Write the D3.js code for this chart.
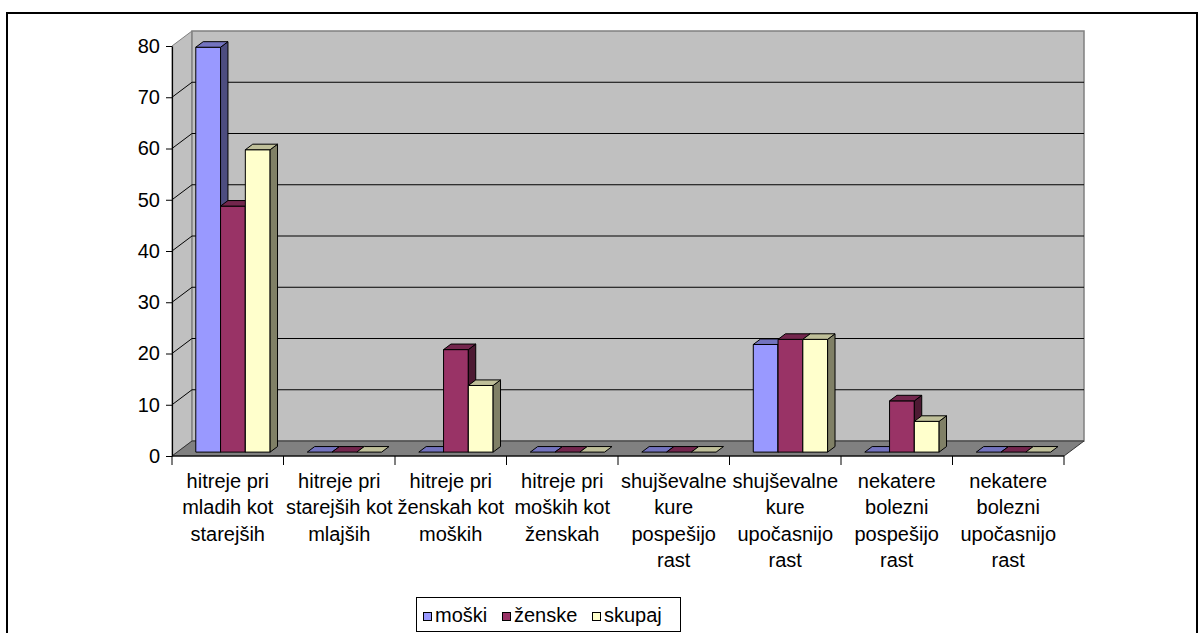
<!DOCTYPE html>
<html>
<head>
<meta charset="utf-8">
<script src="https://cdn.jsdelivr.net/npm/d3@7"></script>
<style>
  html, body { margin: 0; padding: 0; background: #fff; }
  svg { display: block; }
  text { font-family: "Liberation Sans", Arial, sans-serif; fill: #000; }
</style>
</head>
<body>
<svg id="chart" width="1198" height="633"></svg>
<script>
// Categories (line breaks as they are printed under the axis)
const categories = [
  "hitreje pri\nmladih kot\nstarejših",
  "hitreje pri\nstarejših kot\nmlajših",
  "hitreje pri\nženskah kot\nmoških",
  "hitreje pri\nmoških kot\nženskah",
  "shujševalne\nkure\npospešijo\nrast",
  "shujševalne\nkure\nupočasnijo\nrast",
  "nekatere\nbolezni\npospešijo\nrast",
  "nekatere\nbolezni\nupočasnijo\nrast"
];
const seriesNames = ["moški", "ženske", "skupaj"];
const moski   = [79, 0, 0, 0, 0, 21, 0, 0];
const zenske  = [48, 0, 20, 0, 0, 22, 10, 0];
const skupaj  = [59, 0, 13, 0, 0, 22, 6, 0];
const yTicks  = [0, 10, 20, 30, 40, 50, 60, 70, 80];

const seriesValues = [moski, zenske, skupaj];
const frontColors = ["#9999FF", "#993366", "#FFFFCC"];

const svg = d3.select("#chart");

// Front plane of the plot and the 3-D depth offset
const x = d3.scaleBand().domain(d3.range(categories.length)).range([172, 1064]);
const y = d3.scaleLinear().domain([0, 80]).range([456, 46]);
const sub = d3.scaleBand().domain(seriesNames)
  .range([x.bandwidth() / 6, x.bandwidth() * 5 / 6]);
const DX = 20, DY = -15;          // full depth of the floor
const F0 = 0.26, F1 = 0.63;       // bars sit between these depth fractions

const P = (px, py, f) => [px + f * DX, py + f * DY];
const poly = pts => pts.map(p => p.join(",")).join(" ");

const x0 = x.range()[0], x1 = x.range()[1];
const yMax = y(80), yMin = y(0);

// Walls and floor
const walls = svg.append("g");
walls.append("polygon")
  .attr("points", poly([P(x0, yMax, 0), P(x0, yMax, 1), P(x0, yMin, 1), P(x0, yMin, 0)]))
  .attr("fill", "#C0C0C0").attr("stroke", "#808080").attr("stroke-width", 1);
walls.append("polygon")
  .attr("points", poly([P(x0, yMax, 1), P(x1, yMax, 1), P(x1, yMin, 1), P(x0, yMin, 1)]))
  .attr("fill", "#C0C0C0").attr("stroke", "#808080").attr("stroke-width", 1.5);

// Gridlines on back wall and side wall
const gridTicks = yTicks.filter(t => t > 0 && t < 80);
walls.selectAll("line.gb").data(gridTicks).join("line")
  .attr("x1", t => P(x0, y(t), 1)[0]).attr("y1", t => P(x0, y(t), 1)[1])
  .attr("x2", t => P(x1, y(t), 1)[0]).attr("y2", t => P(x1, y(t), 1)[1])
  .attr("stroke", "#000").attr("stroke-width", 1);
walls.selectAll("line.gs").data(gridTicks).join("line")
  .attr("x1", t => P(x0, y(t), 0)[0]).attr("y1", t => P(x0, y(t), 0)[1])
  .attr("x2", t => P(x0, y(t), 1)[0]).attr("y2", t => P(x0, y(t), 1)[1])
  .attr("stroke", "#000").attr("stroke-width", 1);

walls.append("polygon")
  .attr("points", poly([P(x0, yMin, 0), P(x1, yMin, 0), P(x1, yMin, 1), P(x0, yMin, 1)]))
  .attr("fill", "#808080").attr("stroke", "#333").attr("stroke-width", 1);

// Bars, drawn left to right so nearer faces cover farther ones
const shade = (c, k) => { const r = d3.rgb(c); return d3.rgb(r.r * k, r.g * k, r.b * k).toString(); };
const bars = [];
categories.forEach((c, i) => {
  seriesNames.forEach((s, j) => bars.push({ i, j, s, v: seriesValues[j][i] }));
});
const bg = svg.append("g");
bars.forEach(b => {
  const bx0 = x(b.i) + sub(b.s), bx1 = bx0 + sub.bandwidth();
  const yt = y(b.v), yb = y(0);
  const col = frontColors[b.j];
  const g = bg.append("g").attr("stroke", "#000").attr("stroke-width", 1).attr("stroke-linejoin", "round");
  if (b.v > 0) {
    g.append("polygon").attr("fill", col)
      .attr("points", poly([P(bx0, yt, F0), P(bx1, yt, F0), P(bx1, yb, F0), P(bx0, yb, F0)]));
    g.append("polygon").attr("fill", shade(col, 0.5))
      .attr("points", poly([P(bx1, yt, F0), P(bx1, yt, F1), P(bx1, yb, F1), P(bx1, yb, F0)]));
  }
  g.append("polygon").attr("fill", shade(col, 0.75))
    .attr("points", poly([P(bx0, yt, F0), P(bx1, yt, F0), P(bx1, yt, F1), P(bx0, yt, F1)]));
});

// Value axis
const yAxis = svg.append("g").attr("transform", `translate(${x0},0)`)
  .call(d3.axisLeft(y).tickValues(yTicks).tickSize(6).tickSizeOuter(0).tickPadding(6));
yAxis.select(".domain").attr("stroke", "#000").attr("stroke-width", 1.2);
yAxis.selectAll(".tick line").attr("stroke", "#000");
yAxis.selectAll(".tick text")
  .style("font-family", '"Liberation Sans", Arial, sans-serif')
  .style("font-size", "20px").attr("fill", "#000");

// Category axis
const xAxis = svg.append("g");
xAxis.append("line").attr("x1", x0).attr("x2", x1).attr("y1", yMin).attr("y2", yMin)
  .attr("stroke", "#000").attr("stroke-width", 1.2);
const bounds = d3.range(categories.length + 1).map(k => x0 + k * x.bandwidth());
xAxis.selectAll("line.t").data(bounds).join("line")
  .attr("x1", d => d).attr("x2", d => d).attr("y1", yMin).attr("y2", yMin + 9)
  .attr("stroke", "#000");
const lab = xAxis.selectAll("text").data(categories).join("text")
  .attr("text-anchor", "middle").style("font-size", "20px");
lab.each(function (c, i) {
  d3.select(this).selectAll("tspan").data(c.split("\n")).join("tspan")
    .attr("x", x(i) + x.bandwidth() / 2)
    .attr("y", (d, k) => 488 + k * 26.3)
    .text(d => d);
});

// Legend
const legendSwatchX = [423, 502, 592];
const lg = svg.append("g");
lg.append("rect").attr("x", 416.5).attr("y", 597.5).attr("width", 264).attr("height", 34)
  .attr("fill", "#fff").attr("stroke", "#000").attr("stroke-width", 1);
seriesNames.forEach((s, j) => {
  const sx = legendSwatchX[j];
  lg.append("rect").attr("x", sx + 0.5).attr("y", 612.5).attr("width", 8).attr("height", 8)
    .attr("fill", frontColors[j]).attr("stroke", "#000").attr("stroke-width", 1);
  lg.append("text").attr("x", sx + 12).attr("y", 621.5).style("font-size", "20px").text(s);
});

// Chart area border
svg.append("rect").attr("x", 7).attr("y", 13).attr("width", 1190).attr("height", 640)
  .attr("fill", "none").attr("stroke", "#000").attr("stroke-width", 2);
</script>
</body>
</html>
